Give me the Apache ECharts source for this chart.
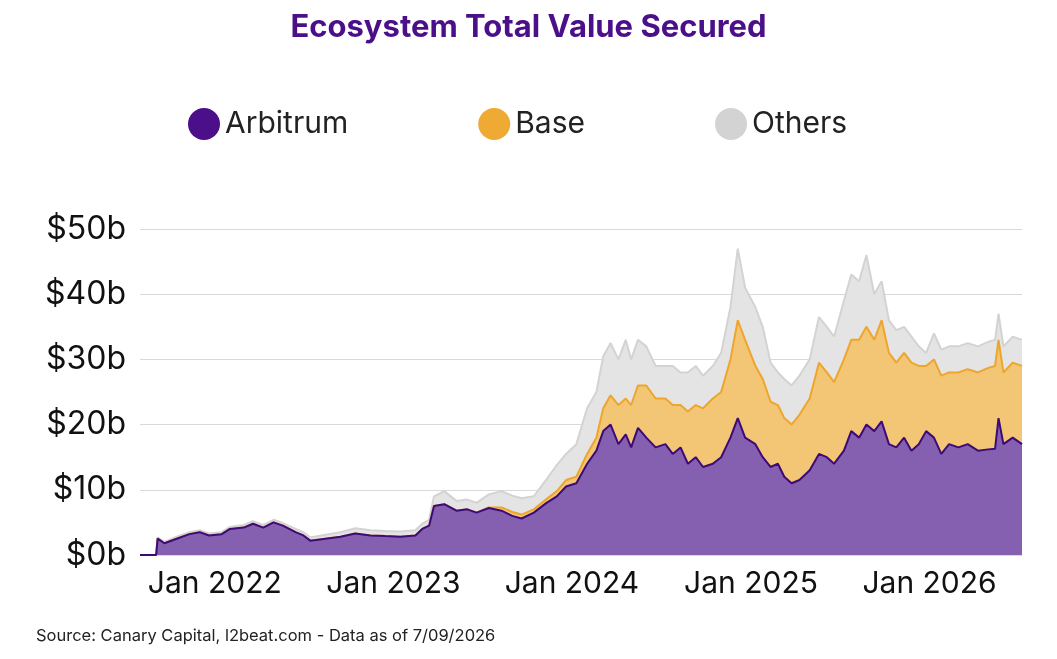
<!DOCTYPE html>
<html><head><meta charset="utf-8">
<script src="https://cdn.jsdelivr.net/npm/echarts@6/dist/echarts.min.js"></script>
<style>html,body{margin:0;padding:0;background:#fff}#c{width:1057px;height:659px}</style>
</head><body><div id="c"></div>
<script>
const dates = ["2021-08-01","2021-09-03","2021-09-06","2021-09-20","2021-10-15","2021-11-10","2021-12-01","2021-12-20","2022-01-15","2022-02-01","2022-03-01","2022-03-20","2022-04-10","2022-05-01","2022-05-20","2022-06-15","2022-07-01","2022-07-15","2022-08-15","2022-09-15","2022-10-15","2022-11-15","2022-12-15","2023-01-15","2023-02-15","2023-03-01","2023-03-15","2023-03-25","2023-04-15","2023-05-10","2023-06-01","2023-06-20","2023-07-15","2023-08-10",
"2023-09-01","2023-09-20","2023-10-15","2023-11-10","2023-12-01","2023-12-20",
"2024-01-10","2024-02-01","2024-02-20","2024-03-05","2024-03-20","2024-04-05","2024-04-20","2024-05-01","2024-05-15","2024-06-01","2024-06-20","2024-07-10","2024-07-25","2024-08-10","2024-08-25","2024-09-10","2024-09-25","2024-10-15","2024-11-01","2024-11-20","2024-12-05","2024-12-20",
"2025-01-10","2025-01-25","2025-02-10","2025-02-25","2025-03-10","2025-03-25","2025-04-10","2025-05-01","2025-05-20","2025-06-05","2025-06-20","2025-07-10","2025-07-25","2025-08-10","2025-08-25","2025-09-10","2025-09-25","2025-10-10","2025-10-25","2025-11-10","2025-11-25","2025-12-10","2025-12-25",
"2026-01-10","2026-01-25","2026-02-10","2026-03-01","2026-03-20","2026-04-10","2026-05-01","2026-05-15","2026-05-22","2026-06-01","2026-06-20","2026-07-09"];
const arbitrum = [0,0,2.5,1.8,2.5,3.2,3.5,3.0,3.2,4.0,4.2,4.8,4.2,5.0,4.5,3.5,3.0,2.2,2.5,2.8,3.3,3.0,2.9,2.8,3.0,4.0,4.5,7.5,7.8,6.8,7.0,6.5,7.2,6.8,
6.0,5.6,6.5,8.0,9.0,10.5,
11,14,16,19,20,17,18.5,16.5,19.5,18,16.5,17,15.5,16.5,14,15,13.5,14,15,18,21,18,
17,15,13.5,14,12,11,11.5,13,15.5,15,14,16,19,18,20,19,20.5,17,16.5,18,16,17,19,
18,15.5,17,16.5,17,16,16.2,16.3,21,17,18,17];
const base = [0,0,0,0,0,0,0,0,0,0,0,0,0,0,0,0,0,0,0,0,0,0,0,0,0,0,0,0,0,0,0,0,0.1,0.5,
0.6,0.6,0.5,0.6,0.8,1.0,
1.0,1.5,2.0,3.5,4.5,6,5.5,6.5,6.5,8,7.5,7,7.5,6.5,8,8,9,10,10,12,15,15,
12,12,10,9,9,9,10,11,14,13,12.5,14,14,15,15,14,15.5,14,13,13,13.5,12,10,
12,12,11,11.5,11.5,12,12.5,12.7,12,11,11.5,12];
const others = [0,0,0.2,0.2,0.3,0.3,0.3,0.3,0.3,0.3,0.4,0.4,0.4,0.4,0.4,0.5,0.5,0.5,0.6,0.7,0.8,0.8,0.8,0.8,0.8,0.8,0.9,1.5,2.0,1.5,1.5,1.5,2.0,2.5,
2.5,2.5,2,3,4,4,
5,7,7,8,8,7,9,7,7,6,5,5,6,5,6,6,5,5,6,8,11,8,
9,8,6,5,6,6,6,6,7,7,7,9,10,9,11,7,6,5,5,4,4,3,2,
4,4,4,4,4,4,4,4,4,4,4,4];
const xTicks = ["2022-01-01","2023-01-01","2024-01-01","2025-01-01","2026-01-01"];

const ts = d => Date.parse(d+'T00:00:00Z');
const topBase = arbitrum.map((v,i)=>v+base[i]);
const topOthers = topBase.map((v,i)=>v+others[i]);
const zip = a => dates.map((d,i)=>[ts(d),+a[i].toFixed(2)]);
const mk = (name,arr,line,fill,icon,z)=>({name,type:'line',data:zip(arr),symbol:'none',z,
  lineStyle:{color:line,width:2},itemStyle:{color:icon},areaStyle:{color:fill,opacity:1}});
const chart = echarts.init(document.getElementById('c'));
chart.setOption({
  animation:false,
  title:[{text:'Ecosystem Total Value Secured',left:'center',top:7,textStyle:{color:'#4b0f8a',fontSize:31,fontWeight:'bold',fontFamily:'Inter'}},
    {text:'Source: Canary Capital, l2beat.com - Data as of 7/09/2026',left:31,top:623,textStyle:{color:'#222',fontSize:16.5,fontWeight:'normal',fontFamily:'Inter'}}],
  legend:{top:103,left:183,itemGap:130,icon:'circle',itemWidth:32,itemHeight:32,
    textStyle:{fontSize:30,color:'#222',fontFamily:'Inter'},data:['Arbitrum','Base','Others']},
  grid:{left:140,right:35,top:229,bottom:104},
  xAxis:{type:'value',min:ts('2021-08-01'),max:ts('2026-07-09'),
    axisLine:{show:false},axisTick:{show:false},splitLine:{show:false},
    axisLabel:{customValues:xTicks.map(ts),fontSize:30,color:'#111',margin:14,fontFamily:'Inter',
      formatter:v=>'Jan '+new Date(v).getUTCFullYear()}},
  yAxis:{type:'value',min:0,max:50,interval:10,axisLine:{show:false},axisTick:{show:false},
    axisLabel:{fontSize:32,color:'#111',margin:14,fontFamily:'Inter',formatter:v=>'$'+v+'b'},
    splitLine:{lineStyle:{color:'#d9d9d9'}}},
  series:[mk('Others',topOthers,'#d3d3d3','#e4e4e4','#d3d3d3',1),
          mk('Base',topBase,'#eea52c','#f3c676','#eeaa33',2),
          mk('Arbitrum',arbitrum,'#3d0a77','#8660b0','#4b0f8a',3)]
});
</script></body></html>
